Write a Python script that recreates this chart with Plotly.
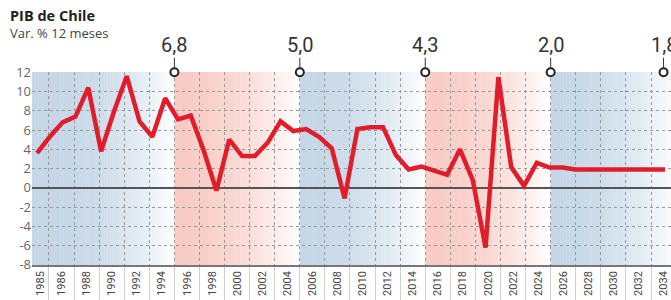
import plotly.graph_objects as go

# ---------------- data ----------------
years = list(range(1985, 2035))
gdp = [3.6, 5.3, 6.8, 7.4, 10.4, 3.8, 7.9, 11.6, 6.9, 5.3,      # 1985-1994
       9.3, 7.1, 7.5, 3.9, -0.3, 5.0, 3.3, 3.3, 4.7, 6.9,       # 1995-2004
       5.9, 6.1, 5.3, 4.1, -1.1, 6.1, 6.3, 6.3, 3.4, 1.9,       # 2005-2014
       2.2, 1.8, 1.35, 4.0, 0.8, -6.2, 11.5, 2.15, 0.2, 2.6,    # 2015-2024
       2.1, 2.1, 1.9, 1.9, 1.9, 1.9, 1.9, 1.9, 1.9, 1.9]        # 2025-2034

decade_starts = [1985, 1995, 2005, 2015, 2025]
decade_avg_text = ["6,8", "5,0", "4,3", "2,0", "1,8"]
decade_tone = ["blue", "red", "blue", "red", "blue"]

x_labels = ["1985"] + [str(y) for y in range(1986, 2035, 2)]
y_ticks = [12, 10, 8, 6, 4, 2, 0, -2, -4, -6, -8]
y_labels = ["12", "10", "8", "6", "4", "2", "0", "-2", "-4", "-6", "-8"]

# ---------------- layout constants ----------------
W, H = 671, 300
ML, MR, MT, MB = 32, 0, 72, 35
LAB_RANGE = [1983.645, 2034.595]   # axis for labels / grid / shading
DATA_RANGE = [1984.610, 2034.469]  # axis for the line
Y_RANGE = [-8.02, 12.03]
Y_TOP = 12
last_year = years[-1]

BLUE = (197, 215, 231)
RED = (248, 204, 197)


def mix(c, a):
    return "rgb(%d,%d,%d)" % tuple(round(255 + (ci - 255) * a) for ci in c)


shapes = []
for i, s in enumerate(decade_starts):
    lo = LAB_RANGE[0] if i == 0 else s
    hi = decade_starts[i + 1] if i + 1 < len(decade_starts) else LAB_RANGE[1]
    base = BLUE if decade_tone[i] == "blue" else RED
    step = 0.25
    x = lo
    while x < hi - 1e-9:
        x2 = min(x + step, hi)
        t = max(0.0, ((x + x2) / 2 - s) / 10.0)
        a = max(0.0, 1 - t ** 2)
        shapes.append(dict(type="rect", xref="x", yref="paper",
                           x0=x, x1=min(x2 + 0.03, hi), y0=0, y1=1,
                           fillcolor=mix(base, a), line_width=0, layer="below"))
        x = x2

label_pos = [(LAB_RANGE[0] + 1985) / 2] + list(range(1986, 2035, 2))
grid_years = list(range(1985, 2034, 2))
mark_x = [min(s + 10, last_year) for s in decade_starts]

NARROW = "Roboto, sans-serif"

fig = go.Figure()
fig.add_trace(go.Scatter(x=years, y=gdp, xaxis="x2", yaxis="y", mode="lines",
                         line=dict(color="#e11d2b", width=4.5),
                         cliponaxis=False, hoverinfo="skip"))
fig.add_trace(go.Scatter(x=mark_x, y=[Y_TOP] * len(mark_x), mode="markers",
                         marker=dict(symbol="circle", size=8, color="white",
                                     line=dict(color="#222", width=2)),
                         cliponaxis=False, hoverinfo="skip"))

annotations = []
for mx, txt in zip(mark_x, decade_avg_text):
    annotations.append(dict(x=mx, y=Y_TOP, xref="x", yref="y", text=txt,
                            showarrow=True, arrowhead=0, arrowwidth=1,
                            arrowcolor="#333", ax=0, ay=-27, standoff=4,
                            borderpad=0,
                            font=dict(family=NARROW, size=20, color="#333")))
annotations.append(dict(text="<b>PIB de Chile</b>", xref="paper", yref="paper",
                        x=0, y=1, xshift=-24, yshift=MT - 15, xanchor="left",
                        yanchor="middle", showarrow=False,
                        font=dict(family="Open Sans", size=14.5, color="#222")))
annotations.append(dict(text="Var. % 12 meses", xref="paper", yref="paper",
                        x=0, y=1, xshift=-24, yshift=MT - 33, xanchor="left",
                        yanchor="middle", showarrow=False,
                        font=dict(family="Open Sans", size=13, color="#444")))

fig.update_layout(
    width=W, height=H,
    margin=dict(l=ML, r=MR, t=MT, b=MB, pad=0, autoexpand=False),
    paper_bgcolor="white", plot_bgcolor="white",
    showlegend=False,
    shapes=shapes,
    annotations=annotations,
    xaxis=dict(range=LAB_RANGE, tickmode="array", tickvals=label_pos,
               ticktext=x_labels, tickangle=-90, showgrid=False, ticks="",
               automargin=False,
               tickfont=dict(family=NARROW, size=11, color="#444"),
               showline=True, linecolor="#777", linewidth=1.5, zeroline=False,
               fixedrange=True,
               minor=dict(tickmode="array", tickvals=grid_years, showgrid=True,
                          gridcolor="#9a9a9a", griddash="dot", gridwidth=1,
                          ticks="outside", ticklen=35, tickcolor="#cfcfcf",
                          tickwidth=1)),
    xaxis2=dict(overlaying="x", range=DATA_RANGE, visible=False,
                fixedrange=True, automargin=False),
    yaxis=dict(range=Y_RANGE, tickmode="array", tickvals=y_ticks,
               ticktext=y_labels, showgrid=True, gridcolor="#9a9a9a",
               griddash="dot", gridwidth=1, zeroline=True,
               zerolinecolor="#555", zerolinewidth=1.5, ticks="",
               automargin=False,
               tickfont=dict(family="Open Sans", size=13, color="#666"),
               showline=False, fixedrange=True),
)

fig.write_html("out.html", config={"displayModeBar": False},
               post_script="document.body.style.margin='0';")
